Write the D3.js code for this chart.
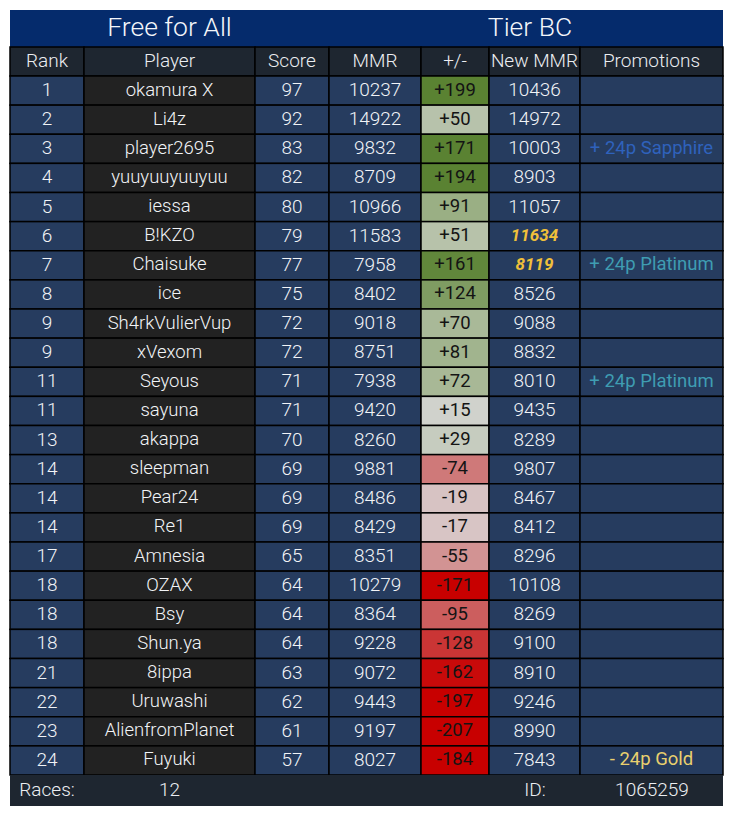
<!DOCTYPE html>
<html><head><meta charset="utf-8">
<script src="https://cdn.jsdelivr.net/npm/d3@7"></script>
<style>html,body{margin:0;padding:0;background:#fff}svg{display:block}text{font-family:Roboto,sans-serif}</style>
</head><body><svg id="c" width="733" height="815"></svg>
<script>
const titleLeft="Free for All", titleRight="Tier BC";
const columns=["Rank","Player","Score","MMR","+/-","New MMR","Promotions"];
const ranks=[1,2,3,4,5,6,7,8,9,9,11,11,13,14,14,14,17,18,18,18,21,22,23,24];
const players=["okamura X","Li4z","player2695","yuuyuuyuuyuu","iessa","B!KZO","Chaisuke","ice","Sh4rkVulierVup","xVexom","Seyous","sayuna","akappa","sleepman","Pear24","Re1","Amnesia","OZAX","Bsy","Shun.ya","8ippa","Uruwashi","AlienfromPlanet","Fuyuki"];
const scores=[97,92,83,82,80,79,77,75,72,72,71,71,70,69,69,69,65,64,64,64,63,62,61,57];
const mmr=[10237,14922,9832,8709,10966,11583,7958,8402,9018,8751,7938,9420,8260,9881,8486,8429,8351,10279,8364,9228,9072,9443,9197,8027];
const deltas=[199,50,171,194,91,51,161,124,70,81,72,15,29,-74,-19,-17,-55,-171,-95,-128,-162,-197,-207,-184];
const newMmr=[10436,14972,10003,8903,11057,11634,8119,8526,9088,8832,8010,9435,8289,9807,8467,8412,8296,10108,8269,9100,8910,9246,8990,7843];
const promotions=["","","+ 24p Sapphire","","","","+ 24p Platinum","","","","+ 24p Platinum","","","","","","","","","","","","","- 24p Gold"];
const promoTiers=["","","Sapphire","","","","Platinum","","","","Platinum","","","","","","","","","","","","","Gold"];
const highlighted=[5,6];
const footLabels=["Races:","12","ID:","1065259"];

const edges=[10,84,255,329,421,489,580,723];
const tableTop=10,titleB=47,headB=76,rowsB=775,tableBottom=806;
const svg=d3.select("#c");
const yScale=d3.scaleBand().domain(d3.range(ranks.length)).range([headB,rowsB]);
const colMid=i=>(edges[i]+edges[i+1])/2;
const deltaColor=d3.scaleLinear().domain([-170,-90,-15,15,90,170]).range(["#c80000","#cc6464","#d8c8c8","#d0d2cc","#9bb085","#5a8232"]).clamp(true);
const promoColor=d3.scaleOrdinal(["Sapphire","Platinum","Gold"],["#2f62bc","#3f9db2","#e9d06e"]);
const tableW=edges[7]-edges[0];
const txt=(g,x,yy,s,size,fill)=>g.append("text").attr("x",x).attr("y",yy).attr("text-anchor","middle").attr("dominant-baseline","central").attr("font-size",size).attr("fill",fill).style("font-weight",300).text(s);

svg.append("rect").attr("x",edges[0]).attr("y",tableTop).attr("width",tableW).attr("height",titleB-tableTop).attr("fill","#052b6c");
txt(svg,169.5,26.5,titleLeft,26.5,"#f4f6fa");
txt(svg,530,26.5,titleRight,26.5,"#f4f6fa");

columns.forEach((c,i)=>{
  svg.append("rect").attr("x",edges[i]).attr("y",titleB).attr("width",edges[i+1]-edges[i]).attr("height",headB-titleB).attr("fill","#1e2630").attr("stroke","#000").attr("stroke-width",1.5);
  txt(svg,colMid(i),60.5,c,19,"#eceef2");
});
const colFill=["#263c5f","#222222","#263c5f","#263c5f",null,"#263c5f","#263c5f"];
ranks.forEach((r,k)=>{
  const vals=[r,players[k],scores[k],mmr[k],(deltas[k]>0?"+":"")+deltas[k],newMmr[k],promotions[k]];
  vals.forEach((v,i)=>{
    const fill=i===4?deltaColor(deltas[k]):colFill[i];
    svg.append("rect").attr("x",edges[i]).attr("y",yScale(k)).attr("width",edges[i+1]-edges[i]).attr("height",yScale.bandwidth()).attr("fill",fill).attr("stroke","#000").attr("stroke-width",1.5);
    const cy=yScale(k)+yScale.bandwidth()/2-1;
    let color="#f2f4f7";
    if(i===4)color="#141414";
    if(i===6)color=promoColor(promoTiers[k]);
    const t=txt(svg,colMid(i),cy,v,i===1?18.5:19,color);
    if(i===5&&highlighted.includes(k))t.attr("fill","#f0c03a").attr("font-size",17).style("font-weight",700).style("font-style","italic");
    if(i===4||i===6)t.attr("font-size",18.5).style("font-weight",400);
  });
});
svg.append("rect").attr("x",edges[0]).attr("y",rowsB).attr("width",tableW).attr("height",tableBottom-rowsB).attr("fill","#1e2630");
[47,169.5,535,652].forEach((x,i)=>txt(svg,x,789.5,footLabels[i],19,"#eceef2"));
</script></body></html>
